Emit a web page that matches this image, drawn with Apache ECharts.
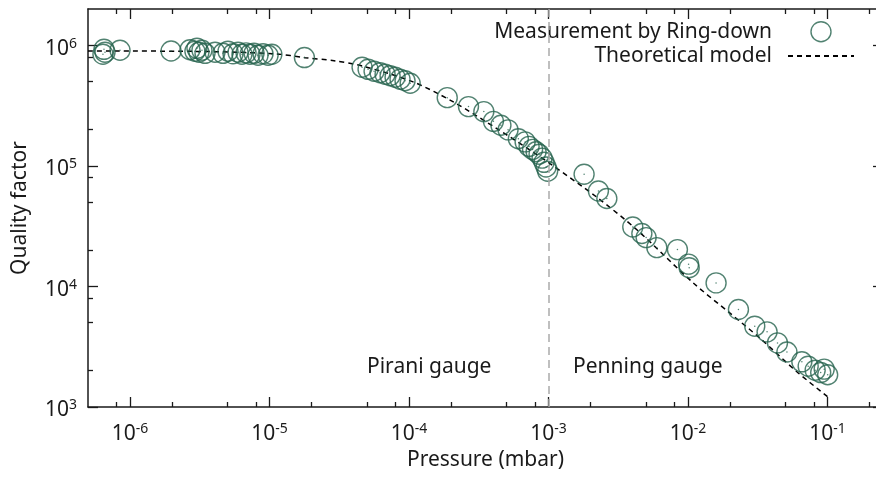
<!DOCTYPE html>
<html>
<head>
<meta charset="utf-8">
<script src="https://cdn.jsdelivr.net/npm/echarts@6.0.0/dist/echarts.min.js"></script>
<style>
  html, body { margin: 0; padding: 0; background: #fff; }
  #chart { width: 876px; height: 478px; }
</style>
</head>
<body>
<div id="chart"></div>
<script>
// measured Q vs pressure (mbar), ring-down
var measP = [6.51e-7, 6.62e-7, 6.40e-7, 8.48e-7, 1.97e-6, 2.69e-6, 2.92e-6, 3.02e-6, 3.12e-6, 3.28e-6,
  3.45e-6, 4.07e-6, 4.64e-6, 5.04e-6, 5.48e-6, 5.95e-6, 6.35e-6, 6.79e-6, 7.25e-6, 7.75e-6,
  8.28e-6, 8.99e-6, 9.77e-6, 1.04e-5, 1.78e-5,
  4.61e-5, 5.09e-5, 5.62e-5, 6.20e-5, 6.74e-5, 7.32e-5, 7.95e-5, 8.63e-5, 9.37e-5, 1.02e-4,
  1.88e-4, 2.67e-4, 3.44e-4, 4.03e-4, 4.56e-4, 5.13e-4, 6.08e-4, 6.80e-4, 7.26e-4, 7.69e-4,
  8.15e-4, 8.56e-4, 9.00e-4, 9.30e-4, 9.61e-4, 9.86e-4,
  1.80e-3, 2.28e-3, 2.62e-3, 4.02e-3, 4.67e-3, 5.01e-3, 5.98e-3, 8.40e-3, 1.01e-2, 1.02e-2,
  1.59e-2, 2.30e-2, 3.01e-2, 3.69e-2, 4.38e-2, 5.12e-2, 6.55e-2, 7.27e-2, 8.16e-2, 8.94e-2,
  9.47e-2, 0.1003];
var measQ = [9.26e5, 8.75e5, 8.42e5, 9.09e5, 8.97e5, 9.18e5, 8.92e5, 9.44e5, 8.75e5, 9.09e5,
  8.58e5, 8.75e5, 8.58e5, 8.92e5, 8.50e5, 8.75e5, 8.42e5, 8.66e5, 8.42e5, 8.58e5,
  8.26e5, 8.50e5, 8.26e5, 8.42e5, 7.91e5,
  6.57e5, 6.32e5, 6.09e5, 5.92e5, 5.75e5, 5.59e5, 5.43e5, 5.23e5, 5.08e5, 4.84e5,
  3.68e5, 3.10e5, 2.82e5, 2.34e5, 2.17e5, 1.99e5, 1.68e5, 1.58e5, 1.45e5, 1.37e5,
  1.31e5, 1.25e5, 1.16e5, 1.07e5, 9.79e4, 9.02e4,
  8.52e4, 6.19e4, 5.36e4, 3.11e4, 2.75e4, 2.54e4, 2.10e4, 2.02e4, 1.53e4, 1.43e4,
  1.07e4, 6.43e3, 4.68e3, 4.20e3, 3.40e3, 2.86e3, 2.37e3, 2.18e3, 2.02e3, 1.93e3,
  2.06e3, 1.85e3];

// theoretical model curve
var modelP = [5e-7, 3e-6, 1.1e-5, 1.8e-5, 2.9e-5, 4.7e-5, 1.07e-4, 2.08e-4, 4.26e-4, 7.4e-4,
  1.03e-3, 2.22e-3, 4.3e-3, 1.09e-2, 2.0e-2, 3.3e-2, 6.0e-2, 0.1];
var modelQ = [8.97e5, 8.9e5, 8.5e5, 7.9e5, 7.45e5, 6.7e5, 4.97e5, 3.39e5, 2.04e5, 1.35e5,
  1.04e5, 5.5e4, 2.95e4, 1.07e4, 6.0e3, 3.7e3, 1.97e3, 1.22e3];

// ticks
var xMajor = [1e-6, 1e-5, 1e-4, 1e-3, 1e-2, 1e-1];
var xMinor = [8e-7, 2e-6, 5e-6, 8e-6, 2e-5, 5e-5, 8e-5, 2e-4, 5e-4, 8e-4,
  2e-3, 5e-3, 8e-3, 2e-2, 5e-2, 8e-2, 2e-1];
var yMajor = [1e3, 1e4, 1e5, 1e6];
var yMinor = [2e3, 5e3, 8e3, 2e4, 5e4, 8e4, 2e5, 5e5, 8e5];

var xRange = [5e-7, 0.25];
var yRange = [1e3, 2e6];
var gaugeSwitch = 1e-3;

var FONT = "'Noto Sans', 'DejaVu Sans', sans-serif";
var INK = "#1a1a1a";
var GREEN = "#25634e";

var measData = measP.map(function (p, i) { return [p, measQ[i]]; });
var modelData = modelP.map(function (p, i) { return [p, modelQ[i]]; });

var powRich = {
  b: { fontFamily: FONT, fontSize: 21, color: INK, lineHeight: 24 },
  s: { fontFamily: FONT, fontSize: 14, color: INK, lineHeight: 8, verticalAlign: "top" }
};
function powLabel(v) {
  return "{b|10}{s|" + Math.round(Math.log10(v)) + "}";
}

function xAx(pos, ticks, len, main) {
  return {
    type: "log",
    position: pos,
    min: xRange[0],
    max: xRange[1],
    name: main ? "Pressure (mbar)" : "",
    nameLocation: "middle",
    nameGap: 42,
    nameTextStyle: { fontFamily: FONT, fontSize: 21, color: INK },
    axisLine: { show: len === 10, lineStyle: { color: INK, width: 1.5 } },
    axisTick: { show: true, inside: true, length: len, customValues: ticks,
      lineStyle: { color: INK, width: 1.3 } },
    minorTick: { show: false },
    axisLabel: main ? { show: true, customValues: ticks, margin: 15,
      formatter: powLabel, rich: powRich } : { show: false },
    splitLine: { show: false }
  };
}
function yAx(pos, ticks, len, main) {
  return {
    type: "log",
    position: pos,
    min: yRange[0],
    max: yRange[1],
    name: main ? "Quality factor" : "",
    nameLocation: "middle",
    nameGap: 57,
    nameTextStyle: { fontFamily: FONT, fontSize: 21, color: INK },
    axisLine: { show: len === 10, lineStyle: { color: INK, width: 1.5 } },
    axisTick: { show: true, inside: true, length: len, customValues: ticks,
      lineStyle: { color: INK, width: 1.3 } },
    minorTick: { show: false },
    axisLabel: main ? { show: true, customValues: ticks, margin: 11, padding: [7, 0, 0, 0],
      formatter: powLabel, rich: powRich } : { show: false },
    splitLine: { show: false }
  };
}

var myChart = echarts.init(document.getElementById("chart"), null, { renderer: "canvas" });

var option = {
  backgroundColor: "#fff",
  animation: false,
  grid: { left: 88, top: 9, width: 795, height: 398, outerBoundsMode: "none", containLabel: false },
  xAxis: [
    xAx("bottom", xMajor, 10, true),
    xAx("bottom", xMinor, 5, false),
    xAx("top", xMajor, 10, false),
    xAx("top", xMinor, 5, false)
  ],
  yAxis: [
    yAx("left", yMajor, 10, true),
    yAx("left", yMinor, 5, false),
    yAx("right", yMajor, 10, false),
    yAx("right", yMinor, 5, false)
  ],
  legend: {
    data: [
      "Measurement by Ring-down",
      { name: "Theoretical model", itemStyle: { opacity: 0 } }
    ],
    orient: "vertical",
    align: "right",
    right: 21,
    top: 21,
    padding: 0,
    itemGap: 3,
    itemWidth: 66,
    itemHeight: 20,
    itemStyle: { borderWidth: 1.4 },
    textStyle: { fontFamily: FONT, fontSize: 21, color: INK, padding: [0, 11, 0, 0] }
  },
  graphic: [
    { type: "text", left: 367, top: 357, style: { text: "Pirani gauge", font: "21px " + FONT, fill: INK } },
    { type: "text", left: 573, top: 357, style: { text: "Penning gauge", font: "21px " + FONT, fill: INK } }
  ],
  series: [
    {
      name: "Theoretical model",
      type: "line",
      data: modelData,
      symbol: "none",
      smooth: 0.3,
      z: 3,
      lineStyle: { color: "#000", width: 1.5, type: [5, 4] },
      markLine: {
        silent: true,
        symbol: "none",
        label: { show: false },
        lineStyle: { color: "#aaaaaa", width: 1.5, type: [8, 5] },
        data: [[{ coord: [gaugeSwitch, yRange[0]] }, { coord: [gaugeSwitch, yRange[1]] }]]
      }
    },
    {
      name: "Measurement by Ring-down",
      type: "scatter",
      data: measData,
      symbol: "circle",
      symbolSize: 20,
      z: 4,
      itemStyle: { color: "rgba(0,0,0,0)", borderColor: GREEN, borderWidth: 1.4 }
    },
    {
      name: "dots",
      type: "scatter",
      data: measData,
      symbolSize: 1.5,
      silent: true,
      z: 4,
      itemStyle: { color: GREEN }
    }
  ]
};

myChart.setOption(option);
</script>
</body>
</html>
